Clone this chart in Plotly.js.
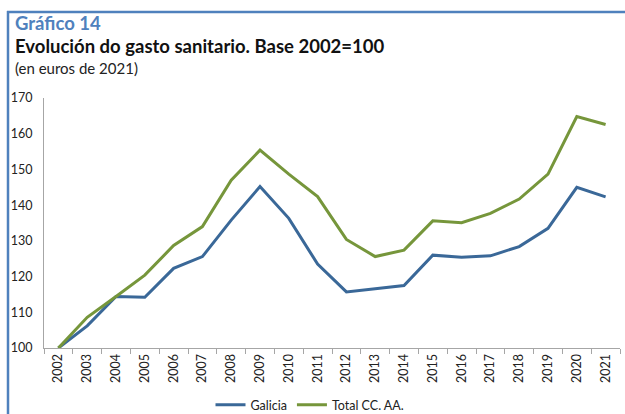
<!DOCTYPE html>
<html>
<head>
<meta charset="utf-8">
<script src="https://cdn.plot.ly/plotly-3.0.1.min.js"></script>
<style>html,body{margin:0;padding:0;background:#fff;}#chart{width:625px;height:414px;}</style>
</head>
<body>
<div id="chart"></div>
<script>
const years = ["2002","2003","2004","2005","2006","2007","2008","2009","2010","2011","2012","2013","2014","2015","2016","2017","2018","2019","2020","2021"];
const galicia = [100, 106.2, 114.4, 114.2, 122.3, 125.6, 135.8, 145.2, 136.3, 123.5, 115.7, 116.6, 117.5, 126.0, 125.4, 125.8, 128.4, 133.5, 145.0, 142.3];
const totalCCAA = [100, 108.6, 114.4, 120.4, 128.7, 134.0, 147.0, 155.4, 148.7, 142.4, 130.4, 125.6, 127.4, 135.6, 135.1, 137.7, 141.7, 148.7, 164.8, 162.6];
const yTicks = [100,110,120,130,140,150,160,170];

const L = 44, R = 5, T = 98, B = 66, W = 625, H = 414;
const pw = W - L - R, ph = H - T - B;
const fx = px => (px - L) / pw;
const fy = py => (H - B - py) / ph;

const traces = [
  {x: years, y: galicia, name: "Galicia", type: "scatter", mode: "lines",
   line: {color: "#3a6898", width: 3}},
  {x: years, y: totalCCAA, name: "Total CC. AA.", type: "scatter", mode: "lines",
   line: {color: "#76963b", width: 3}}
];

const layout = {
  width: W, height: H,
  margin: {l: L, r: R, t: T, b: B, pad: 0, autoexpand: false},
  paper_bgcolor: "#fff", plot_bgcolor: "#fff",
  font: {family: "Lato, 'Open Sans', sans-serif", size: 12, color: "#222"},
  showlegend: true,
  legend: {orientation: "h", x: fx(310), xanchor: "center", y: fy(405), yanchor: "middle",
           font: {size: 12.5, color: "#222"}, itemwidth: 30, tracegroupgap: 0},
  xaxis: {type: "category", range: [-0.5, years.length - 0.5], autorange: false,
          showgrid: false, zeroline: false, showline: true, automargin: false,
          linecolor: "#a6a6a6", linewidth: 1, ticks: "outside", tickson: "boundaries",
          ticklen: 5, tickcolor: "#a6a6a6", tickangle: -90, tickfont: {size: 12.5, color: "#222"},
          fixedrange: true},
  yaxis: {range: [100, 170], autorange: false, tickvals: yTicks, ticktext: yTicks.map(String), showgrid: false,
          zeroline: false, showline: true, linecolor: "#a6a6a6", linewidth: 1, ticks: "", automargin: false,
          tickfont: {size: 12.5, color: "#222"}, ticklabelstandoff: 8, fixedrange: true},
  annotations: [
    {xref: "paper", yref: "paper", x: fx(13), y: fy(23), xanchor: "left", yanchor: "middle",
     text: "<b>Gráfico 14</b>", showarrow: false, font: {size: 18.5, color: "#4f81bd"}},
    {xref: "paper", yref: "paper", x: fx(13), y: fy(46), xanchor: "left", yanchor: "middle",
     text: "<b>Evolución do gasto sanitario. Base 2002=100</b>", showarrow: false, font: {size: 18.5, color: "#111"}},
    {xref: "paper", yref: "paper", x: fx(13), y: fy(68), xanchor: "left", yanchor: "middle",
     text: "(en euros de 2021)", showarrow: false, font: {size: 15, color: "#222"}}
  ],
  shapes: [
    {type: "line", xref: "paper", yref: "paper", x0: fx(8), x1: fx(8), y0: fy(H + 2), y1: fy(11),
     line: {color: "#4f81bd", width: 2.5}},
    {type: "line", xref: "paper", yref: "paper", x0: fx(7), x1: fx(W + 2), y0: fy(12), y1: fy(12),
     line: {color: "#4f81bd", width: 2.5}}
  ]
};

Plotly.newPlot("chart", traces, layout, {staticPlot: true, displayModeBar: false});
</script>
</body>
</html>
